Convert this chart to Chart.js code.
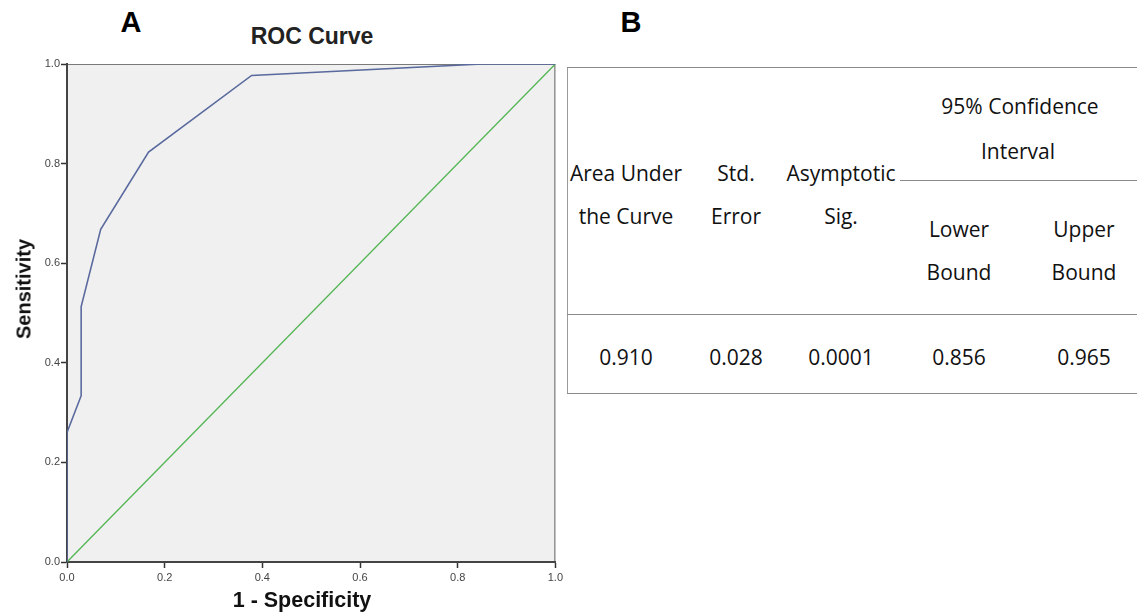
<!DOCTYPE html>
<html>
<head>
<meta charset="utf-8">
<script src="https://cdn.jsdelivr.net/npm/chart.js@4.4.1/dist/chart.umd.min.js"></script>
<style>
    html, body { margin: 0; padding: 0; background: #fff; }
    body { width: 1137px; height: 612px; position: relative; overflow: hidden; font-family: "Liberation Sans", Arial, sans-serif; }
    #rocChart { position: absolute; left: 0; top: 0; }
    .panel-letter { position: absolute; font-weight: bold; font-size: 29px; color: #000; transform: translate(-50%, -50%); }
    .chart-title { position: absolute; left: 312px; top: 36px; transform: translate(-50%, -50%); font-weight: bold; font-size: 23px; color: #222; white-space: nowrap; }
    .axis-title { position: absolute; font-weight: bold; color: #111; white-space: nowrap; }
    .axis-title--x { left: 302px; top: 600px; font-size: 21.5px; transform: translate(-50%, -50%); }
    .axis-title--y { left: 24px; top: 289px; font-size: 20px; transform: translate(-50%, -50%) rotate(-90deg); }
    .auc-table { position: absolute; left: 567px; top: 67px; width: 570px; height: 327px; font-family: "Open Sans", sans-serif; font-size: 21px; color: #111; }
    .auc-table .line { position: absolute; background: #8a8a8a; height: 1px; }
    .auc-table .vline { position: absolute; left: 0; top: 0; width: 1px; height: 327px; background: #9a9a9a; }
    .auc-table .cell { position: absolute; transform: translate(-50%, -50%); white-space: nowrap; }
</style>
</head>
<body>
<div class="panel-letter" style="left:131px; top:22px;">A</div>
<div class="panel-letter" style="left:631px; top:22px;">B</div>
<div class="chart-title">ROC Curve</div>
<canvas id="rocChart" width="566" height="612"></canvas>
<div class="axis-title axis-title--y">Sensitivity</div>
<div class="axis-title axis-title--x">1 - Specificity</div>
<div class="auc-table" id="aucTable"></div>

<script>
// ROC curve points
const falsePositiveRate = [0, 0, 0.029, 0.029, 0.069, 0.167, 0.378, 0.85, 1];
const truePositiveRate = [0, 0.26, 0.334, 0.513, 0.668, 0.823, 0.977, 1.0, 1.0];
// chance (reference) line
const referenceX = [0, 1];
const referenceY = [0, 1];
const tickValues = [0, 0.2, 0.4, 0.6, 0.8, 1.0];

// AUC table
const tableHeaders = ['Area Under\nthe Curve', 'Std.\nError', 'Asymptotic\nSig.'];
const intervalHeader = '95% Confidence\nInterval';
const boundHeaders = ['Lower\nBound', 'Upper\nBound'];
const tableValues = ['0.910', '0.028', '0.0001', '0.856', '0.965'];

document.addEventListener('DOMContentLoaded', () => {
    renderChart();
    renderTable();
});

function toPoints(xs, ys) {
    return xs.map((x, i) => ({ x, y: ys[i] }));
}

const plotBackground = {
    id: 'plotBackground',
    beforeDraw(chart) {
        const { ctx, chartArea: a } = chart;
        ctx.save();
        ctx.fillStyle = '#f0f0f0';
        ctx.fillRect(a.left, a.top, a.right - a.left, a.bottom - a.top);
        ctx.strokeStyle = '#7a7a7a';
        ctx.lineWidth = 1.2;
        ctx.beginPath();
        ctx.moveTo(a.left, a.top + 0.5);
        ctx.lineTo(a.right - 0.5, a.top + 0.5);
        ctx.lineTo(a.right - 0.5, a.bottom);
        ctx.stroke();
        ctx.restore();
    },
};

function renderChart() {
    const context = document.getElementById('rocChart');
    const axis = (fit, padding) => ({
        type: 'linear',
        min: 0,
        max: 1,
        afterBuildTicks(scale) {
            scale.ticks = tickValues.map((value) => ({ value }));
        },
        afterFit: fit,
        grid: { drawOnChartArea: false, drawTicks: true, tickLength: 6, tickWidth: 1.5, tickColor: '#333' },
        border: { display: true, color: '#444', width: 2 },
        ticks: {
            color: '#444',
            font: { family: 'Liberation Sans', size: 11 },
            padding,
            callback: (value) => Number(value).toFixed(1),
        },
        title: { display: false },
    });

    new Chart(context, {
        type: 'scatter',
        data: {
            datasets: [
                {
                    label: 'ROC',
                    data: toPoints(falsePositiveRate, truePositiveRate),
                    showLine: true,
                    borderColor: '#5a6a9e',
                    borderWidth: 1.6,
                    pointRadius: 0,
                    tension: 0,
                },
                {
                    label: 'Reference',
                    data: toPoints(referenceX, referenceY),
                    showLine: true,
                    borderColor: '#52b552',
                    borderWidth: 1.3,
                    pointRadius: 0,
                },
            ],
        },
        options: {
            responsive: false,
            animation: false,
            layout: { padding: { top: 64, right: 9, left: 0, bottom: 0 } },
            plugins: {
                legend: { display: false },
                tooltip: { enabled: false },
            },
            scales: {
                x: axis((scale) => { scale.height = 50; }, 3),
                y: axis((scale) => { scale.width = 67; }, 1),
            },
        },
        plugins: [plotBackground],
    });
}

function renderTable() {
    const table = document.getElementById('aucTable');
    const columnX = [59, 169, 274, 392, 517];
    const parts = [];

    parts.push('<div class="vline"></div>');
    parts.push('<div class="line" style="left:0; top:0; width:570px;"></div>');
    parts.push('<div class="line" style="left:333px; top:113px; width:237px;"></div>');
    parts.push('<div class="line" style="left:0; top:247px; width:570px;"></div>');
    parts.push('<div class="line" style="left:0; top:326px; width:570px;"></div>');

    tableHeaders.forEach((text, i) => {
        const [first, second] = text.split('\n');
        parts.push(`<div class="cell" style="left:${columnX[i]}px; top:106px;">${first}</div>`);
        parts.push(`<div class="cell" style="left:${columnX[i]}px; top:149px;">${second}</div>`);
    });

    const [ciFirst, ciSecond] = intervalHeader.split('\n');
    parts.push(`<div class="cell" style="left:453px; top:39px;">${ciFirst}</div>`);
    parts.push(`<div class="cell" style="left:451px; top:84px;">${ciSecond}</div>`);

    boundHeaders.forEach((text, i) => {
        const [first, second] = text.split('\n');
        parts.push(`<div class="cell" style="left:${columnX[i + 3]}px; top:162px;">${first}</div>`);
        parts.push(`<div class="cell" style="left:${columnX[i + 3]}px; top:205px;">${second}</div>`);
    });

    tableValues.forEach((value, i) => {
        parts.push(`<div class="cell" style="left:${columnX[i]}px; top:290px;">${value}</div>`);
    });

    table.innerHTML = parts.join('');
}
</script>
</body>
</html>
